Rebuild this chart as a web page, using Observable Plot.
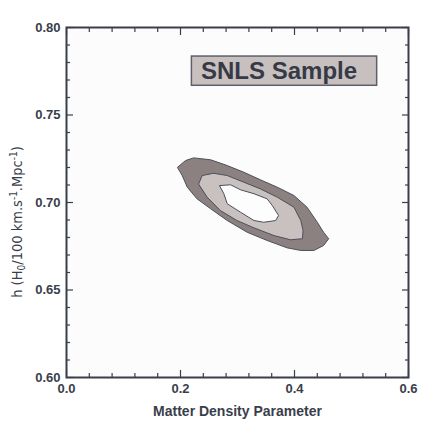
<!DOCTYPE html>
<html><head><meta charset="utf-8">
<script src="https://cdn.jsdelivr.net/npm/d3@7"></script>
<script src="https://cdn.jsdelivr.net/npm/@observablehq/plot@0.6"></script>
<style>html,body{margin:0;padding:0;background:#fff;} svg{display:block}</style>
</head><body><div id="chart"></div>
<script>
// Contour levels (Omega_m, h)
const outerX = [0.195,0.209,0.223,0.253,0.282,0.311,0.340,0.370,0.399,0.422,0.440,0.451,0.460,0.451,0.434,0.411,0.387,0.352,0.317,0.282,0.253,0.229,0.212,0.203];
const outerY = [0.7202,0.7240,0.7255,0.7244,0.7211,0.7173,0.7130,0.7087,0.7040,0.6973,0.6887,0.6830,0.6793,0.6754,0.6726,0.6726,0.6741,0.6783,0.6830,0.6897,0.6964,0.7021,0.7087,0.7154];
const middleX = [0.232,0.238,0.258,0.282,0.311,0.340,0.370,0.399,0.411,0.415,0.414,0.393,0.364,0.329,0.299,0.270,0.247];
const middleY = [0.7107,0.7154,0.7167,0.7154,0.7116,0.7078,0.7030,0.6973,0.6897,0.6840,0.6793,0.6787,0.6811,0.6855,0.6897,0.6954,0.7030];
const innerX = [0.269,0.288,0.305,0.329,0.352,0.361,0.372,0.367,0.346,0.329,0.305,0.282,0.276];
const innerY = [0.7097,0.7101,0.7073,0.7050,0.7021,0.6983,0.6926,0.6897,0.6887,0.6897,0.6945,0.6993,0.7050];

const xMajor = [0.0, 0.2, 0.4, 0.6];
const xMinor = [0.04,0.08,0.12,0.16,0.24,0.28,0.32,0.36,0.44,0.48,0.52,0.56];
const yMajor = [0.60, 0.65, 0.70, 0.75, 0.80];
const yMinor = [0.61,0.62,0.63,0.64,0.66,0.67,0.68,0.69,0.71,0.72,0.73,0.74,0.76,0.77,0.78,0.79];

const legendLabel = "SNLS Sample";
const xLabel = "Matter Density Parameter";

function ring(xs, ys) {
  return xs.map((x, i) => ({x, y: ys[i]}));
}
const outer = ring(outerX, outerY);
const middle = ring(middleX, middleY);
const inner = ring(innerX, innerY);

const ink = "#3a3e4b";
const font = "'Liberation Sans', Arial, Helvetica, sans-serif";

function tickAxes(ticks, size, axisFn, anchors) {
  return anchors.map(a => {
    const o = {anchor: a, tickSize: size, fill: "none", stroke: ink, strokeWidth: 1.2, label: null};
    if (a === "bottom") o.dy = -size;
    if (a === "top") o.dy = size;
    if (a === "left") o.dx = size;
    if (a === "right") o.dx = -size;
    return axisFn(ticks, o);
  });
}

const chart = Plot.plot({
  width: 443, height: 429,
  marginLeft: 66, marginRight: 35, marginTop: 27, marginBottom: 52,
  x: {domain: [0, 0.6], label: null},
  y: {domain: [0.6, 0.8], label: null},
  style: {fontFamily: font, color: ink, background: "#fff"},
  marks: [
    Plot.frame({fill: "#fcfcfc", stroke: "none"}),
    Plot.line(outer, {x: "x", y: "y", fill: "#8b8180", stroke: "#4b4f5c", strokeWidth: 1, curve: "linear-closed"}),
    Plot.line(middle, {x: "x", y: "y", fill: "#c9c1bf", stroke: "#4b4f5c", strokeWidth: 1, curve: "linear-closed"}),
    Plot.line(inner, {x: "x", y: "y", fill: "#fdfdfd", stroke: "#4b4f5c", strokeWidth: 1, curve: "linear-closed"}),
    Plot.rect([legendLabel], {x1: 0.22, x2: 0.545, y1: 0.7667, y2: 0.7834, fill: "#c8c0be", stroke: "#5c606b", strokeWidth: 1.5}),
    Plot.text([legendLabel], {x: 0.236, y: 0.7752, text: d => d, textAnchor: "start", fontSize: 24, fontWeight: "bold", fill: "#363a47"}),
    ...tickAxes(xMinor, 4, Plot.axisX, ["bottom", "top"]),
    ...tickAxes(xMajor, 7, Plot.axisX, ["bottom", "top"]),
    ...tickAxes(yMinor, 4, Plot.axisY, ["left", "right"]),
    ...tickAxes(yMajor, 7, Plot.axisY, ["left", "right"]),
    Plot.axisX(xMajor, {anchor: "bottom", tickSize: 0, tickPadding: 6, tickFormat: d3.format(".1f"), fontSize: 13, fontWeight: "bold", fill: ink, label: null}),
    Plot.axisY(yMajor, {anchor: "left", tickSize: 0, tickPadding: 6, tickFormat: d3.format(".2f"), fontSize: 13, fontWeight: "bold", fill: ink, label: null}),
    Plot.frame({stroke: ink, strokeWidth: 2}),
    Plot.text([xLabel], {frameAnchor: "bottom", dy: 38, text: d => d, fontSize: 14, fontWeight: "bold", fill: ink})
  ]
});

const svg = d3.select(chart);
const yl = svg.append("text")
  .attr("transform", "translate(22,222) rotate(-90)")
  .attr("text-anchor", "middle")
  .attr("font-family", "'Liberation Sans Narrow', 'DejaVu Sans Condensed', 'Liberation Sans', sans-serif")
  .attr("font-size", 14.5)
  .attr("fill", ink);
yl.append("tspan").text("h (H");
yl.append("tspan").attr("dy", 3).attr("font-size", 10).text("0");
yl.append("tspan").attr("dy", -3).text("/100 km.s");
yl.append("tspan").attr("dy", -5).attr("font-size", 10).text("-1");
yl.append("tspan").attr("dy", 5).text(".Mpc");
yl.append("tspan").attr("dy", -5).attr("font-size", 10).text("-1");
yl.append("tspan").attr("dy", 5).text(")");

document.getElementById("chart").appendChild(chart);
</script>
</body></html>
